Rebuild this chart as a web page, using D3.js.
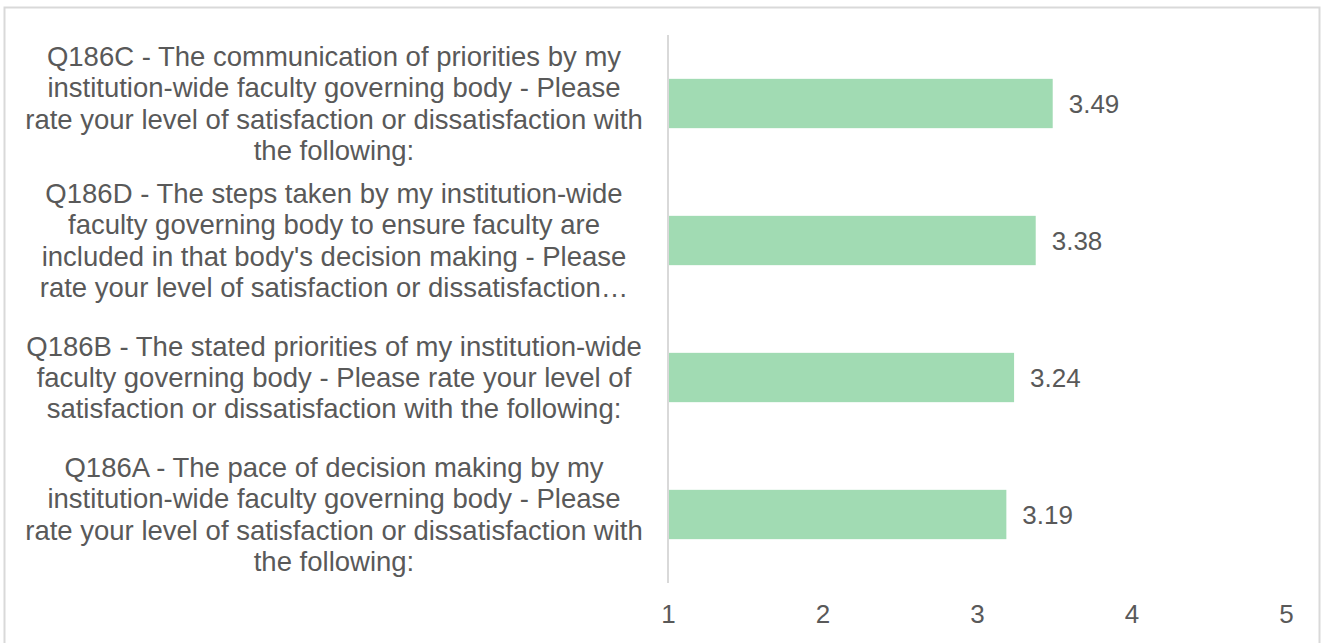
<!DOCTYPE html>
<html>
<head>
<meta charset="utf-8">
<script src="https://cdn.jsdelivr.net/npm/d3@7"></script>
<style>
  html, body { margin: 0; padding: 0; background: #fff; }
  svg { display: block; font-family: "Liberation Sans", Arial, sans-serif; }
</style>
</head>
<body>
<svg id="chart" width="1322" height="643"></svg>
<script>
// Survey items, top to bottom, with the wrapped lines of each label
const itemIds = ["Q186C", "Q186D", "Q186B", "Q186A"];
const itemLines = [
  ["Q186C - The communication of priorities by my",
   "institution-wide faculty governing body - Please",
   "rate your level of satisfaction or dissatisfaction with",
   "the following:"],
  ["Q186D - The steps taken by my institution-wide",
   "faculty governing body to ensure faculty are",
   "included in that body's decision making - Please",
   "rate your level of satisfaction or dissatisfaction\u2026"],
  ["Q186B - The stated priorities of my institution-wide",
   "faculty governing body - Please rate your level of",
   "satisfaction or dissatisfaction with the following:"],
  ["Q186A - The pace of decision making by my",
   "institution-wide faculty governing body - Please",
   "rate your level of satisfaction or dissatisfaction with",
   "the following:"]
];
// Mean rating for each item
const meanScores = [3.49, 3.38, 3.24, 3.19];
// Axis tick values
const axisTicks = [1, 2, 3, 4, 5];

const svg = d3.select("#chart");
const textColor = "#595959";
const gridColor = "#d9d9d9";
const barColor = "#a1dbb3";

// Outer frame
svg.append("rect")
  .attr("x", 4.5).attr("y", 7.5)
  .attr("width", 1315).attr("height", 660)
  .attr("fill", "#fff")
  .attr("stroke", gridColor).attr("stroke-width", 2);

const plot = { left: 668, right: 1286, top: 35, bottom: 583 };

const x = d3.scaleLinear().domain([1, 5]).range([plot.left, plot.right]);
const y = d3.scaleBand().domain(itemIds)
  .range([plot.top, plot.bottom])
  .paddingInner(0.64).paddingOuter(0.32);

// Bars
svg.append("g").selectAll("rect")
  .data(itemIds)
  .join("rect")
  .attr("x", x(1))
  .attr("y", d => y(d))
  .attr("width", (d, i) => x(meanScores[i]) - x(1))
  .attr("height", y.bandwidth())
  .attr("fill", barColor);

// Value labels
svg.append("g").selectAll("text")
  .data(itemIds)
  .join("text")
  .attr("x", (d, i) => x(meanScores[i]) + 16)
  .attr("y", d => y(d) + y.bandwidth() / 2)
  .attr("dy", "0.35em")
  .attr("fill", textColor)
  .attr("font-size", 26)
  .text((d, i) => meanScores[i].toFixed(2));

// Vertical category axis line
svg.append("line")
  .attr("x1", x(1)).attr("x2", x(1))
  .attr("y1", plot.top).attr("y2", plot.bottom)
  .attr("stroke", gridColor).attr("stroke-width", 2);

// Value axis (labels only)
const xAxis = svg.append("g")
  .attr("transform", `translate(0,${plot.bottom})`)
  .call(d3.axisBottom(x).tickValues(axisTicks).tickSize(0).tickPadding(22).tickFormat(d3.format("d")));
xAxis.select(".domain").remove();
xAxis.selectAll("text")
  .attr("font-size", 26)
  .attr("font-family", "'Liberation Sans', Arial, sans-serif")
  .attr("fill", textColor);

// Category labels: wrapped lines centred in the left margin
const lineHeight = 31.3;
const labelCenter = 334;
const labels = svg.append("g")
  .attr("font-size", 27.5)
  .attr("fill", textColor)
  .attr("text-anchor", "middle");

itemIds.forEach((id, i) => {
  const lines = itemLines[i];
  const cy = y(id) + y.bandwidth() / 2;
  const firstY = cy - (lines.length - 1) * lineHeight / 2;
  labels.append("text")
    .selectAll("tspan")
    .data(lines)
    .join("tspan")
    .attr("x", labelCenter)
    .attr("y", (d, k) => firstY + k * lineHeight)
    .attr("dy", "0.35em")
    .text(d => d);
});
</script>
</body>
</html>
